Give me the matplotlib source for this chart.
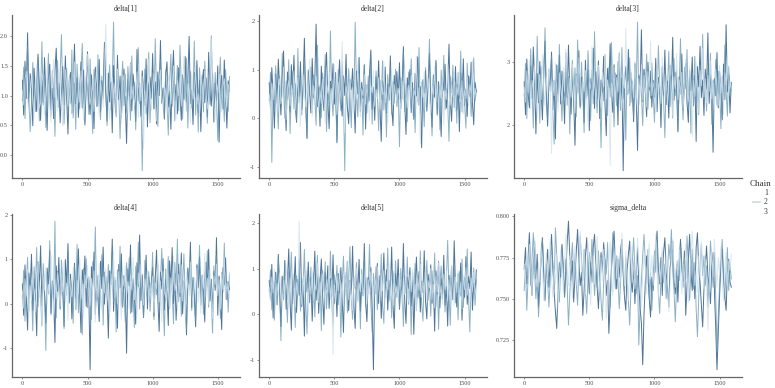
import numpy as np
import matplotlib
matplotlib.use("Agg")
import matplotlib.pyplot as plt
from matplotlib.lines import Line2D

# trace values: every 10th draw, 3 chains per parameter
delta1_c1 = [1.08, 0.84, 1.27, 1.41, 0.93, 0.71, 1.15, 1.33, 0.98, 0.62, 1.19, 1.52, 1.06, 0.79, 0.88, 1.36, 1.24, 0.67, 1.02, 1.47,
             1.13, 0.86, 0.55, 1.29, 1.61, 0.97, 1.10, 0.74, 1.38, 1.21, 0.91, 0.48, 1.05, 1.44, 1.17, 0.82, 1.31, 0.95, 0.69, 1.25,
             1.57, 1.03, 0.77, 1.18, 0.89, 1.42, 1.09, 0.58, 0.94, 1.34, 1.70, 1.12, 0.85, 1.00, 1.26, 0.73, 1.16, 1.49, 0.92, 0.65,
             1.22, 1.07, 0.81, 1.39, 2.21, 1.14, 0.90, 0.60, 1.04, 1.30, 0.96, 1.20, 0.76, 1.45, 1.11, 0.87, 0.52, 1.23, 1.35, 0.99,
             1.06, 0.70, 1.28, 1.54, 0.94, 1.15, 0.83, 1.01, 1.40, 0.63, 1.19, 0.91, 1.32, 0.10, 1.08, 0.80, 1.24, 1.62, 0.97, 0.75,
             1.13, 1.37, 0.88, 0.57, 1.02, 1.27, 1.43, 0.95, 0.78, 1.17, 1.05, 0.68, 1.34, 1.21, 0.86, 1.10, 1.50, 0.92, 0.61, 1.25,
             1.00, 1.31, 0.82, 1.15, 1.66, 0.99, 0.73, 1.20, 1.08, 0.54, 1.38, 0.94, 1.12, 1.46, 0.85, 1.03, 0.66, 1.29, 1.18, 0.89,
             1.41, 1.07, 0.77, 0.96, 1.33, 1.95, 1.11, 0.84, 0.59, 1.22, 1.04, 1.36, 0.90, 0.72, 1.16, 1.28, 0.98, 0.81, 1.19, 1.09]
delta1_c2 = [0.92, 1.48, 0.61, 1.27, 1.83, 1.05, 0.39, 0.88, 1.56, 1.19, 0.73, 1.37, 1.64, 0.57, 1.02, 1.91, 0.84, 1.29, 0.46, 1.13,
             1.71, 0.95, 0.66, 1.42, 1.08, 0.31, 1.24, 1.59, 0.80, 1.35, 2.03, 0.99, 0.52, 1.17, 1.46, 0.70, 1.28, 0.87, 1.77, 0.62,
             1.21, 0.43, 1.53, 1.06, 0.78, 1.39, 1.88, 0.90, 0.55, 1.31, 1.12, 0.68, 1.62, 0.97, 0.36, 1.44, 1.25, 0.81, 1.69, 1.01,
             0.59, 1.33, 0.94, 1.79, 1.16, 0.49, 1.07, 1.52, 0.75, 1.26, 2.24, 0.87, 0.64, 1.40, 1.03, 0.27, 1.18, 1.58, 0.83, 1.36,
             0.71, 1.49, 1.10, 0.58, 1.67, 0.93, 1.22, 0.42, 1.34, 1.81, 0.86, 1.04, -0.27, 0.98, 1.45, 0.69, 1.28, 1.73, 0.54, 1.15,
             1.38, 0.77, 1.96, 1.02, 0.48, 1.26, 1.60, 0.89, 1.11, 0.63, 1.43, 0.96, 0.33, 1.20, 1.70, 0.82, 1.32, 0.57, 1.08, 1.51,
             0.74, 1.85, 1.14, 0.60, 1.29, 0.91, 1.63, 0.45, 1.19, 1.41, 0.79, 1.05, 1.92, 0.67, 1.24, 0.38, 1.47, 0.99, 1.35, 0.72,
             1.58, 1.09, 0.53, 1.30, 0.85, 2.01, 1.17, 0.66, 1.39, 0.94, 0.24, 1.27, 1.65, 0.80, 1.13, 0.56, 1.44, 1.00, 0.73, 1.32]
delta1_c3 = [1.26, 0.67, 1.58, 0.95, 2.06, 0.80, 1.37, 1.11, 0.49, 1.46, 0.98, 0.73, 1.70, 1.18, 0.58, 1.32, 0.88, 1.64, 1.02, 0.41,
             1.29, 1.53, 0.76, 1.12, 0.61, 1.41, 1.80, 0.92, 1.21, 0.54, 1.03, 1.49, 0.84, 1.67, 0.97, 0.35, 1.24, 1.39, 0.70, 1.15,
             1.87, 0.86, 1.30, 0.63, 1.08, 1.57, 0.79, 1.43, 0.50, 1.19, 1.74, 0.94, 0.68, 1.35, 1.01, 0.44, 1.48, 1.16, 0.82, 1.61,
             0.72, 1.25, 0.96, 1.90, 1.06, 0.57, 1.38, 0.89, 1.22, 0.37, 1.51, 1.04, 0.77, 1.68, 0.93, 1.33, 0.62, 1.14, 1.45, 0.85,
             0.19, 1.27, 0.99, 1.55, 0.74, 1.36, 1.09, 0.56, 1.78, 0.90, 1.20, 0.65, 1.42, 1.05, 0.83, 1.62, 0.47, 1.17, 1.31, 0.95,
             1.71, 0.78, 1.23, 0.52, 1.40, 1.00, 1.93, 0.87, 1.13, 0.60, 1.34, 1.57, 0.81, 1.07, 0.43, 1.28, 1.76, 0.91, 1.19, 0.69,
             1.47, 1.02, 0.58, 1.35, 0.94, 1.66, 0.75, 1.23, 2.00, 0.86, 1.10, 0.51, 1.39, 0.97, 1.59, 0.71, 1.26, 0.39, 1.16, 1.44,
             0.88, 1.30, 0.64, 1.73, 1.06, 0.82, 1.37, 0.55, 1.21, 0.92, 1.50, 0.21, 1.12, 1.34, 0.77, 1.60, 0.98, 0.45, 1.25, 1.08]

delta2_c1 = [0.49, 0.21, 0.72, 0.38, 0.93, 0.55, 0.12, 0.64, 0.81, 0.30, 0.47, 1.05, 0.41, -0.02, 0.59, 0.77, 0.26, 0.68, 0.44, 0.97,
             0.17, 0.53, 0.84, 0.33, -0.16, 0.62, 0.89, 0.46, 0.23, 0.74, 0.36, 1.21, 0.50, 0.05, 0.67, 0.40, 0.86, 0.48, 0.14, 0.57,
             0.31, 0.80, 0.43, -0.11, 0.71, 0.52, 0.95, 0.27, 0.61, 0.38, 1.10, 0.46, 0.08, 0.73, 0.34, 0.58, 1.57, 0.42, -0.29, 0.66,
             0.51, 0.19, 0.85, 0.45, 0.63, 0.16, 0.78, 0.39, 1.14, 0.55, 0.03, 0.60, 0.47, 0.90, 0.29, 0.70, 0.37, -0.04, 0.67, 0.53,
             0.99, 0.25, 0.59, 0.41, 0.83, 0.18, 0.71, 0.49, 1.17, 0.32, 0.57, -0.09, 0.65, 0.44, 0.92, 0.28, 0.69, 0.51, 0.36, 0.62,
             0.45, 0.13, 0.76, 0.35, 1.02, 0.54, 0.22, 0.68, 0.40, 0.88, 0.06, 0.58, 0.47, 1.28, 0.30, 0.63, -0.52, 0.73, 0.43, 0.96,
             0.24, 0.56, 0.82, 0.37, 0.11, 0.66, 0.49, 1.07, 0.34, 0.75, 0.20, 0.61, 0.42, 0.87, -0.13, 0.57, 0.39, 1.12, 0.50, 0.27,
             0.70, 0.44, 0.91, 0.15, 0.64, 0.48, 1.00, 0.33, 0.77, 0.09, 0.59, 0.40, 0.85, 0.26, 0.69, 0.52, 1.19, 0.37, 0.62, 0.46]
delta2_c2 = [0.36, 0.94, -0.90, 0.61, 0.15, 1.08, 0.44, -0.22, 0.86, 0.27, 1.34, 0.59, 0.00, 0.77, 0.39, 1.20, -0.31, 0.63, 0.97, 0.19,
             0.71, -0.04, 1.43, 0.32, 0.82, 0.07, 0.54, 1.25, 0.29, -0.40, 0.75, 0.46, 1.05, 0.12, 0.89, 0.41, -0.14, 1.50, 0.23, 0.68,
             0.01, 0.93, 0.48, 1.31, -0.27, 0.56, 0.30, 1.79, 0.43, 0.05, 0.84, 0.34, -0.45, 1.00, 0.51, 0.16, 1.16, 0.39, -1.07, 0.73,
             0.25, 1.02, 0.48, -0.19, 0.80, 0.33, 1.97, 0.55, 0.03, 0.91, 0.20, 0.66, -0.34, 1.11, 0.42, 0.11, 0.87, 0.36, 1.27, -0.12,
             0.64, 0.27, 0.97, 0.50, -0.25, 0.79, 0.38, 1.18, 0.17, 0.65, -0.38, 0.90, 0.45, 1.07, 0.08, 0.76, 0.31, 1.01, 0.24, 0.57,
             -0.58, 0.83, 0.40, 1.36, 0.14, 0.70, -0.07, 0.95, 0.52, 1.22, 0.21, 0.60, -0.29, 0.88, 0.35, 1.45, 0.10, 0.74, 0.47, -0.17,
             1.04, 0.28, 0.67, 1.62, 0.37, -0.36, 0.81, 0.50, 1.14, 0.06, 0.72, -0.23, 0.99, 0.44, 1.29, 0.18, 0.62, 0.33, -0.47, 0.86,
             0.53, 1.09, 0.22, 0.69, -0.10, 0.94, 0.41, 1.38, 0.13, 0.78, 0.30, -0.20, 1.13, 0.49, 0.85, 0.04, 0.66, 1.24, 0.35, 0.58]
delta2_c3 = [0.73, 0.22, 1.04, 0.47, -0.20, 0.90, 0.31, 1.21, 0.58, 0.07, 0.81, 1.38, 0.42, -0.25, 0.95, 0.60, 0.13, 1.10, 0.49, 1.29,
             0.26, -0.08, 0.86, 0.45, 1.16, 0.18, 0.71, 1.64, 0.33, -0.41, 0.99, 0.56, 0.11, 1.23, 0.42, 0.78, 1.93, 0.24, 0.64, -0.16,
             1.07, 0.48, 0.16, 0.91, 1.35, 0.35, -0.21, 0.76, 0.53, 1.12, 0.29, 0.94, -0.50, 0.61, 1.20, 0.40, 0.05, 0.87, 0.47, 1.31,
             0.23, -0.11, 0.80, 0.58, 1.02, 0.36, -0.30, 0.97, 0.50, 1.25, 0.14, 0.74, 0.41, 1.09, -0.22, 0.69, 0.32, 0.92, 1.40, 0.19,
             0.63, -0.04, 0.85, 0.44, 1.18, 0.28, -0.47, 0.77, 0.55, 1.05, 0.10, 0.70, 0.37, 1.28, 0.25, -0.15, 0.88, 0.51, 0.96, 0.39,
             1.14, 0.20, 0.66, 1.47, 0.34, -0.33, 0.83, 0.59, 1.00, 0.12, 0.73, -0.02, 0.92, 0.46, 1.26, 0.27, 0.65, -0.60, 0.79, 0.52,
             0.98, 0.15, 0.68, 1.33, 0.38, -0.18, 0.89, 0.43, 1.19, 0.09, 0.75, 0.30, -0.37, 0.84, 0.57, 1.11, 0.21, 0.62, 1.52, 0.35,
             -0.06, 0.82, 0.48, 1.06, 0.17, 0.70, -0.27, 0.93, 0.39, 1.22, 0.26, 0.60, 0.04, 0.87, 0.45, 1.15, 0.32, -0.13, 0.74, 0.54]

delta3_c1 = [2.59, 2.36, 2.85, 2.51, 3.02, 2.25, 2.70, 2.57, 2.93, 2.43, 2.15, 2.64, 2.80, 2.40, 3.11, 2.56, 2.30, 2.76, 2.48, 2.88,
             2.61, 1.55, 2.68, 2.46, 2.98, 2.55, 2.22, 2.82, 2.58, 2.38, 2.91, 2.52, 3.19, 2.63, 2.33, 2.74, 2.44, 2.96, 2.54, 2.19,
             2.79, 2.50, 3.06, 2.62, 2.31, 2.72, 2.53, 2.86, 2.42, 1.98, 2.67, 2.57, 3.24, 2.47, 2.77, 2.35, 2.65, 2.94, 2.49, 2.27,
             2.83, 2.60, 3.09, 2.41, 2.71, 2.54, 1.36, 2.66, 2.45, 2.90, 2.37, 2.75, 2.52, 3.15, 2.44, 2.23, 2.81, 2.58, 3.52, 2.48,
             2.69, 2.32, 2.87, 2.63, 2.43, 3.00, 2.53, 2.21, 2.73, 2.47, 2.95, 2.39, 2.78, 2.56, 2.28, 2.84, 2.60, 3.32, 2.46, 2.67,
             2.55, 2.18, 2.89, 2.50, 2.74, 2.34, 3.07, 2.61, 2.42, 2.80, 2.29, 2.68, 2.97, 2.52, 2.14, 2.76, 2.57, 3.13, 2.40, 2.71,
             2.48, 2.83, 2.26, 2.64, 3.04, 2.51, 2.37, 2.92, 2.59, 1.82, 2.70, 2.45, 2.99, 2.55, 2.20, 2.86, 2.62, 3.21, 2.44, 2.73,
             2.35, 2.78, 2.53, 3.01, 2.41, 2.66, 2.24, 2.88, 2.57, 2.31, 2.94, 2.50, 2.75, 2.17, 2.82, 2.63, 3.10, 2.46, 2.69, 2.58]
delta3_c2 = [2.46, 2.97, 2.10, 2.79, 2.34, 3.20, 2.57, 1.95, 2.85, 2.39, 3.40, 2.62, 2.03, 2.92, 2.28, 2.70, 3.53, 2.43, 2.09, 2.88,
             2.53, 3.09, 2.21, 1.70, 2.67, 2.95, 2.37, 3.27, 2.58, 2.06, 2.83, 2.45, 3.14, 2.31, 2.76, 1.86, 2.64, 3.02, 2.40, 2.90,
             2.13, 3.34, 2.55, 2.26, 2.99, 2.49, 1.88, 2.81, 2.42, 3.17, 2.60, 2.07, 2.87, 2.33, 3.47, 2.54, 2.19, 2.94, 2.48, 1.64,
             2.78, 2.38, 3.11, 2.61, 2.15, 2.91, 2.44, 3.30, 2.52, 1.97, 2.82, 2.30, 3.00, 2.58, 2.23, 3.22, 2.41, 2.73, 1.76, 2.89,
             2.50, 3.06, 2.36, 2.69, 2.12, 2.96, 2.56, 3.62, 2.32, 2.80, 2.47, 1.99, 2.86, 2.59, 3.12, 2.25, 2.75, 2.42, 2.98, 2.51,
             2.04, 2.84, 2.35, 3.25, 2.63, 2.18, 2.93, 2.40, 1.80, 2.77, 2.55, 3.16, 2.29, 2.72, 2.11, 3.05, 2.46, 2.87, 1.92, 2.66,
             3.36, 2.44, 2.08, 2.91, 2.57, 3.19, 2.27, 2.74, 1.87, 2.83, 2.49, 3.08, 2.34, 2.69, 2.16, 2.95, 2.58, 3.43, 2.37, 2.79,
             2.22, 2.90, 2.52, 3.13, 2.01, 2.71, 2.45, 3.03, 2.31, 2.85, 2.60, 1.94, 2.76, 2.39, 3.26, 2.54, 2.14, 2.92, 2.47, 2.64]
delta3_c3 = [2.68, 2.16, 3.04, 2.50, 2.27, 2.93, 2.42, 3.23, 2.72, 1.86, 2.81, 2.35, 3.00, 2.54, 2.08, 2.86, 3.32, 2.45, 1.98, 2.77,
             2.62, 3.15, 2.24, 2.70, 1.78, 2.94, 2.48, 3.10, 2.33, 2.85, 2.64, 2.02, 2.98, 2.43, 3.26, 2.55, 2.17, 2.90, 2.38, 1.68,
             2.80, 2.51, 3.17, 2.29, 2.76, 2.67, 2.04, 3.02, 2.46, 2.87, 1.91, 2.73, 2.56, 3.21, 2.26, 2.84, 2.41, 3.01, 2.10, 2.71,
             2.52, 3.08, 2.34, 1.83, 2.89, 2.59, 3.28, 2.44, 2.20, 2.95, 2.53, 2.79, 2.00, 3.13, 2.40, 2.74, 1.28, 2.66, 2.92, 2.48,
             3.19, 2.31, 2.82, 2.57, 2.05, 2.97, 2.45, 1.60, 2.78, 2.61, 3.50, 2.37, 2.88, 2.50, 2.13, 2.99, 2.55, 2.85, 2.28, 2.70,
             2.44, 3.05, 2.21, 2.75, 2.60, 1.96, 2.91, 2.47, 3.18, 2.32, 2.69, 2.11, 2.94, 2.53, 3.38, 2.39, 2.83, 2.58, 1.89, 2.76,
             2.49, 3.12, 2.25, 2.65, 2.97, 2.36, 2.04, 2.86, 2.54, 3.07, 2.30, 2.78, 1.74, 2.92, 2.60, 3.24, 2.43, 2.71, 2.15, 2.88,
             2.57, 3.45, 2.34, 2.80, 2.51, 1.57, 2.73, 2.46, 3.14, 2.27, 2.84, 2.62, 2.08, 2.96, 2.40, 3.58, 2.52, 2.79, 2.19, 2.67]

delta4_c1 = [0.29, -0.10, 0.56, 0.17, 0.77, -0.32, 0.40, 0.08, 0.65, 0.25, -0.19, 0.49, 0.92, 0.14, 0.35, -0.46, 0.61, 0.30, 0.83, -0.02,
             0.43, 0.21, 1.10, 0.36, -0.25, 0.54, 0.12, 0.70, 0.41, -0.07, 0.59, 0.27, 0.95, 0.05, 0.46, -0.37, 0.68, 0.32, 0.16, 0.81,
             0.38, -0.14, 0.52, 0.23, 1.01, 0.10, 0.44, -0.29, 0.64, 0.35, 0.86, 0.19, -0.05, 0.57, 0.29, 0.74, -0.42, 0.48, 0.15, 0.90,
             0.34, -0.16, 0.60, 0.24, 0.78, 0.07, 0.45, -0.23, 0.67, 0.34, 1.18, 0.13, 0.53, 0.00, 0.72, 0.28, -0.35, 0.58, 0.39, 0.85,
             0.18, 0.50, -0.11, 0.63, 0.31, 1.04, 0.09, 0.41, -0.27, 0.69, 0.37, 0.88, 0.22, -0.03, 0.55, 0.26, 0.76, 0.11, 0.42, 0.20,
             0.62, -0.20, 0.47, 0.33, 0.97, 0.04, 0.51, -0.40, 0.73, 0.27, 0.14, 0.80, 0.36, -0.08, 0.58, 0.21, 1.07, 0.30, 0.45, -0.15,
             0.66, 0.24, 0.87, 0.06, 0.52, -0.30, 0.71, 0.39, 0.17, 0.93, 0.32, -0.06, 0.60, 0.26, 0.79, 0.02, 0.48, -0.22, 0.64, 0.35,
             1.13, 0.15, 0.57, -0.01, 0.75, 0.28, -0.33, 0.62, 0.43, 0.89, 0.18, 0.54, -0.12, 0.67, 0.31, 1.02, 0.10, 0.46, 0.23, 0.70]
delta4_c2 = [0.14, 0.75, -0.39, 0.40, 1.04, -0.16, 0.57, 0.26, -0.61, 0.83, 0.33, 1.26, -0.07, 0.49, 0.17, -0.50, 0.90, 0.38, -1.05, 0.66,
             0.22, 1.41, -0.25, 0.52, 0.09, 1.85, -0.32, 0.73, 0.30, -0.13, 0.98, 0.43, -0.56, 0.62, 0.19, 1.17, 0.01, 0.55, 0.35, -0.44,
             0.86, 0.28, 1.33, -0.20, 0.47, 0.12, -0.69, 0.79, 0.41, 1.01, -0.09, 0.60, 0.24, -0.35, 0.94, 0.46, 1.72, 0.06, 0.64, -0.27,
             0.37, 1.10, -0.48, 0.71, 0.29, 0.16, 0.88, -0.18, 0.51, 1.21, 0.04, 0.59, -0.63, 0.76, 0.34, 1.29, -0.05, 0.42, 0.21, -0.41,
             0.92, 0.39, 1.03, -0.22, 0.54, 0.13, -0.53, 0.84, 0.32, 1.38, -0.12, 0.65, 0.25, -0.30, 0.97, 0.48, 0.10, 0.72, -0.17, 0.36,
             1.15, -0.36, 0.63, 0.20, 0.87, -0.02, 0.50, 1.24, 0.11, -0.72, 0.78, 0.35, 1.06, -0.10, 0.57, 0.27, -0.45, 0.93, 0.40, 1.45,
             0.05, 0.68, -0.28, 0.44, 1.12, 0.18, -0.58, 0.81, 0.31, 0.99, -0.15, 0.53, 0.23, -0.38, 0.89, 0.45, 1.31, 0.02, 0.61, -0.24,
             0.74, 0.30, 1.19, -0.08, 0.56, 0.15, -0.66, 0.85, 0.38, 1.08, 0.07, 0.60, -0.33, 0.70, 0.26, 1.36, 0.12, 0.49, -0.19, 0.67]
delta4_c3 = [0.44, -0.26, 0.87, 0.11, -0.59, 0.69, 0.32, 1.11, -0.15, 0.55, 0.20, -0.72, 0.94, 0.37, 1.30, -0.04, 0.62, 0.23, -0.43, 0.80,
             0.42, 1.19, -0.21, 0.50, 0.15, -0.87, 0.85, 0.28, 1.04, -0.10, 0.59, 0.35, -0.51, 0.99, 0.40, 1.35, 0.03, 0.66, -0.34, 0.31,
             0.91, -0.13, 0.53, 1.23, 0.18, -0.65, 0.76, 0.45, 1.07, -0.06, 0.57, 0.22, -1.48, 0.83, 0.39, 1.16, -0.24, 0.48, 0.12, -0.40,
             0.95, 0.34, 1.27, -0.01, 0.61, 0.26, -0.77, 0.74, 0.43, 1.45, -0.17, 0.52, 0.17, -0.55, 0.88, 0.36, 1.12, -0.08, 0.63, 0.29,
             -1.11, 0.78, 0.41, 1.32, -0.19, 0.56, 0.14, -0.46, 0.92, 0.38, 1.54, 0.07, 0.65, -0.31, 0.46, 1.09, -0.12, 0.60, 0.24, 0.49,
             0.82, -0.28, 0.58, 1.20, 0.10, -0.62, 0.71, 0.33, 1.01, -0.14, 0.54, 0.27, -0.49, 0.96, 0.40, 1.26, 0.00, 0.67, -0.37, 0.30,
             0.89, 0.16, 1.14, -0.23, 0.51, 0.21, -0.70, 0.79, 0.44, 1.38, -0.09, 0.59, 0.13, -0.52, 0.86, 0.35, 1.05, -0.03, 0.64, 0.25,
             -0.41, 0.93, 0.38, 1.22, 0.06, 0.55, -0.18, 0.73, 0.30, 1.48, -0.26, 0.62, 0.19, -0.58, 0.81, 0.42, 1.03, 0.09, 0.50, 0.32]

delta5_c1 = [0.59, 0.29, 0.82, 0.47, 1.00, 0.20, 0.68, 0.40, 0.91, 0.54, 0.11, 0.75, 0.35, 1.09, 0.60, 0.24, 0.79, 0.49, 0.97, 0.66,
             0.16, 0.70, 0.43, 2.05, 0.57, 0.22, 0.86, 0.38, 1.04, 0.62, -0.03, 0.73, 0.45, 0.97, 0.31, 0.64, 0.53, 1.13, 0.26, 0.71,
             0.42, 0.89, 0.59, 0.14, 0.77, 0.48, 1.06, 0.33, 0.75, -0.89, 0.65, 0.28, 0.84, 0.52, 0.98, 0.37, 0.70, 0.19, 0.92, 0.56,
             1.18, 0.32, 0.74, 0.46, 0.09, 0.81, 0.61, 1.02, 0.27, 0.69, 0.50, 0.88, 0.39, 0.63, 1.11, 0.23, 0.76, 0.44, 0.94, 0.58,
             0.13, 0.78, 0.36, 1.05, 0.64, 0.30, 0.85, 0.51, 0.96, 0.25, 0.72, 0.55, 1.15, 0.41, 0.69, 0.18, 0.83, 0.47, 0.62, 0.34,
             0.90, 0.57, 0.21, 0.80, 0.44, 1.07, 0.60, 0.27, 0.87, 0.50, 0.99, 0.35, 0.66, 0.08, 0.79, 0.53, 1.10, 0.38, 0.71, 0.46,
             0.93, 0.26, 0.74, 0.58, 1.01, 0.32, 0.67, 0.15, 0.84, 0.49, 1.14, 0.40, 0.63, 0.22, 0.88, 0.55, 0.95, 0.30, 0.76, 0.43,
             1.08, 0.61, 0.19, 0.82, 0.48, 0.97, 0.36, 0.70, 0.12, 0.86, 0.54, 1.03, 0.42, 0.68, 0.25, 0.80, 0.51, 0.92, 0.39, 0.64]
delta5_c2 = [0.50, 0.98, 0.10, 0.73, -0.13, 0.88, 0.41, 1.25, 0.57, -0.58, 0.82, 0.32, 1.11, 0.48, -0.18, 0.94, 0.65, 1.37, 0.23, 0.70,
             -0.29, 0.85, 0.44, 1.20, 0.07, 0.79, 0.60, 1.43, 0.28, -0.43, 0.76, 0.53, 1.04, 0.18, 0.91, -0.06, 0.67, 1.30, 0.36, 0.81,
             -0.36, 0.97, 0.51, 1.16, 0.12, 0.72, 0.45, 1.39, 0.26, -0.23, 0.87, 0.59, 1.08, 0.21, 0.78, -0.50, 0.64, 1.28, 0.39, 0.92,
             0.04, 0.75, 1.49, 0.34, -0.11, 0.83, 0.55, 1.14, 0.30, 0.69, -0.32, 0.99, 0.47, 1.23, 0.16, 0.80, 0.62, 1.54, 0.24, -0.38,
             0.90, 0.52, 1.05, 0.10, 0.74, 0.42, 1.33, 0.20, -0.20, 0.86, 0.58, 1.46, 0.29, 0.71, -0.08, 0.95, 0.49, 1.18, 0.37, 0.77,
             0.13, 1.01, 0.56, -0.27, 0.84, 0.46, 1.26, 0.22, 0.68, -0.45, 0.93, 0.52, 1.12, 0.08, 0.79, 0.35, 1.40, 0.27, -0.15, 0.89,
             0.60, 1.19, 0.31, 0.73, -0.04, 0.96, 0.43, 1.35, 0.17, 0.82, -0.33, 0.66, 1.07, 0.38, 0.91, 0.05, 0.75, 1.63, 0.48, -0.24,
             0.87, 0.54, 1.10, 0.25, 0.70, -0.12, 0.94, 0.40, 1.22, 0.15, 0.80, 0.57, 1.44, 0.33, -0.39, 0.85, 0.50, 1.02, 0.20, 0.76]
delta5_c3 = [0.74, 0.33, 1.10, -0.08, 0.66, 0.93, 0.21, 1.32, 0.52, -0.27, 0.84, 0.46, 1.19, 0.11, 0.71, 1.44, 0.29, -0.35, 0.89, 0.58,
             1.27, 0.04, 0.77, 0.42, 1.58, 0.17, 0.65, -0.48, 0.96, 0.49, 1.15, 0.26, 0.81, -0.15, 0.62, 1.39, 0.31, 0.87, 0.02, 0.72,
             1.22, 0.44, -0.22, 0.92, 0.55, 1.07, 0.13, 0.79, 0.39, 1.31, 0.23, 0.68, -0.05, 0.90, 0.47, 1.03, 0.36, -0.40, 0.85, 0.60,
             1.17, 0.08, 0.75, 0.43, 1.50, 0.18, -0.31, 0.88, 0.54, 1.21, 0.07, 0.70, 0.41, 1.56, 0.27, -0.16, 0.82, 0.57, 1.03, 0.15,
             -1.22, 0.67, 0.46, 1.12, 0.24, 0.85, -0.09, 0.60, 1.35, 0.37, 0.98, 0.09, 0.75, 0.50, 1.48, 0.22, -0.31, 0.90, 0.54, 1.21,
             0.11, 0.70, 0.39, 1.56, 0.31, -0.20, 0.82, 0.57, 1.03, 0.19, 0.76, -0.44, 0.63, 1.26, 0.38, 0.94, 0.05, 0.73, 0.48, 1.40,
             0.28, -0.10, 0.88, 0.53, 1.09, 0.24, 0.69, -0.37, 0.96, 0.45, 1.16, 0.14, 0.79, 0.34, 1.30, 0.20, 0.61, -0.26, 0.86, 0.51,
             1.06, 0.32, 1.62, 0.59, 0.16, 0.90, 0.43, 1.13, -0.13, 0.74, 0.37, 1.27, 0.22, 0.83, 0.56, 1.37, 0.09, 0.68, 0.40, 0.98]

sigma_c1 = [0.771, 0.758, 0.779, 0.764, 0.783, 0.769, 0.752, 0.775, 0.787, 0.766, 0.757, 0.772, 0.760, 0.781, 0.770, 0.749, 0.765, 0.778, 0.761, 0.774,
            0.786, 0.763, 0.751, 0.768, 0.759, 0.777, 0.744, 0.762, 0.780, 0.767, 0.755, 0.773, 0.789, 0.768, 0.758, 0.776, 0.764, 0.750, 0.771, 0.782,
            0.765, 0.756, 0.774, 0.791, 0.769, 0.760, 0.779, 0.753, 0.767, 0.784, 0.772, 0.746, 0.763, 0.776, 0.759, 0.770, 0.788, 0.766, 0.754, 0.775,
            0.761, 0.780, 0.768, 0.738, 0.757, 0.773, 0.785, 0.764, 0.752, 0.770, 0.781, 0.762, 0.776, 0.755, 0.767, 0.790, 0.771, 0.758, 0.779, 0.765,
            0.749, 0.768, 0.782, 0.760, 0.774, 0.756, 0.766, 0.787, 0.772, 0.761, 0.745, 0.764, 0.778, 0.769, 0.753, 0.773, 0.784, 0.762, 0.776, 0.758,
            0.770, 0.789, 0.765, 0.751, 0.772, 0.760, 0.781, 0.767, 0.755, 0.777, 0.763, 0.742, 0.759, 0.775, 0.786, 0.768, 0.757, 0.773, 0.764, 0.780,
            0.766, 0.753, 0.771, 0.759, 0.783, 0.769, 0.748, 0.762, 0.777, 0.791, 0.772, 0.758, 0.767, 0.754, 0.776, 0.763, 0.785, 0.770, 0.756, 0.774,
            0.760, 0.731, 0.752, 0.768, 0.779, 0.763, 0.786, 0.771, 0.757, 0.775, 0.765, 0.782, 0.761, 0.749, 0.769, 0.778, 0.758, 0.773, 0.767, 0.777]
sigma_c2 = [0.755, 0.770, 0.743, 0.763, 0.781, 0.758, 0.774, 0.790, 0.767, 0.750, 0.764, 0.739, 0.757, 0.779, 0.786, 0.768, 0.753, 0.772, 0.760, 0.745,
            0.762, 0.783, 0.771, 0.756, 0.793, 0.776, 0.760, 0.748, 0.769, 0.782, 0.765, 0.751, 0.774, 0.758, 0.734, 0.752, 0.771, 0.784, 0.763, 0.777,
            0.759, 0.746, 0.768, 0.788, 0.775, 0.761, 0.780, 0.755, 0.741, 0.763, 0.778, 0.766, 0.786, 0.770, 0.752, 0.767, 0.757, 0.779, 0.764, 0.749,
            0.737, 0.760, 0.774, 0.765, 0.784, 0.758, 0.745, 0.769, 0.790, 0.773, 0.756, 0.776, 0.762, 0.744, 0.760, 0.781, 0.767, 0.754, 0.775, 0.763,
            0.748, 0.734, 0.757, 0.772, 0.787, 0.768, 0.753, 0.764, 0.722, 0.746, 0.761, 0.777, 0.789, 0.771, 0.759, 0.780, 0.750, 0.766, 0.743, 0.762,
            0.779, 0.766, 0.786, 0.754, 0.741, 0.763, 0.778, 0.760, 0.771, 0.750, 0.765, 0.783, 0.774, 0.792, 0.767, 0.755, 0.736, 0.758, 0.773, 0.761,
            0.782, 0.768, 0.757, 0.775, 0.762, 0.788, 0.770, 0.749, 0.766, 0.780, 0.756, 0.772, 0.744, 0.727, 0.751, 0.769, 0.783, 0.764, 0.776, 0.758,
            0.770, 0.745, 0.762, 0.785, 0.773, 0.757, 0.778, 0.752, 0.718, 0.740, 0.759, 0.774, 0.786, 0.765, 0.750, 0.768, 0.781, 0.755, 0.771, 0.762]
sigma_c3 = [0.768, 0.781, 0.759, 0.774, 0.790, 0.766, 0.752, 0.771, 0.785, 0.762, 0.777, 0.745, 0.760, 0.773, 0.787, 0.764, 0.749, 0.770, 0.780, 0.757,
            0.775, 0.789, 0.769, 0.754, 0.742, 0.732, 0.756, 0.772, 0.763, 0.783, 0.770, 0.751, 0.767, 0.784, 0.797, 0.776, 0.761, 0.773, 0.748, 0.764,
            0.779, 0.792, 0.771, 0.758, 0.766, 0.740, 0.755, 0.776, 0.787, 0.768, 0.753, 0.772, 0.760, 0.781, 0.789, 0.770, 0.757, 0.744, 0.763, 0.778,
            0.766, 0.784, 0.773, 0.752, 0.761, 0.729, 0.749, 0.768, 0.782, 0.791, 0.770, 0.756, 0.774, 0.763, 0.780, 0.786, 0.765, 0.751, 0.743, 0.767,
            0.777, 0.785, 0.761, 0.754, 0.772, 0.747, 0.765, 0.781, 0.758, 0.744, 0.735, 0.710, 0.741, 0.760, 0.776, 0.764, 0.750, 0.739, 0.763, 0.755,
            0.771, 0.782, 0.791, 0.768, 0.759, 0.775, 0.752, 0.778, 0.787, 0.766, 0.757, 0.745, 0.769, 0.776, 0.785, 0.762, 0.753, 0.771, 0.748, 0.773,
            0.786, 0.770, 0.761, 0.779, 0.740, 0.758, 0.774, 0.789, 0.767, 0.755, 0.772, 0.750, 0.781, 0.790, 0.768, 0.760, 0.746, 0.733, 0.756, 0.769,
            0.782, 0.764, 0.758, 0.747, 0.770, 0.778, 0.755, 0.733, 0.707, 0.729, 0.752, 0.771, 0.780, 0.762, 0.751, 0.743, 0.766, 0.774, 0.760, 0.757]

params = ["delta[1]", "delta[2]", "delta[3]", "delta[4]", "delta[5]", "sigma_delta"]
chains = [
    [delta1_c1, delta1_c2, delta1_c3],
    [delta2_c1, delta2_c2, delta2_c3],
    [delta3_c1, delta3_c2, delta3_c3],
    [delta4_c1, delta4_c2, delta4_c3],
    [delta5_c1, delta5_c2, delta5_c3],
    [sigma_c1, sigma_c2, sigma_c3],
]
yticks = [
    [0.0, 0.5, 1.0, 1.5, 2.0],
    [-1, 0, 1, 2],
    [2, 3],
    [-1, 0, 1, 2],
    [-1, 0, 1, 2],
    [0.725, 0.750, 0.775, 0.800],
]
yfmt = ["{:.1f}", "{:.0f}", "{:.0f}", "{:.0f}", "{:.0f}", "{:.3f}"]
xticks = [0, 500, 1000, 1500]
thin = 10  # iteration step between the values above

chain_colors = ["#d1e1ec", "#6497b1", "#03396c"]
chain_alpha = [0.8, 0.75, 0.7]
draw_order = [2, 1, 0]  # dark underneath, light band on top
axis_col = "#666666"
text_col = "#4d4d4d"

plt.rcParams["font.family"] = ["Liberation Serif", "DejaVu Serif"]
plt.rcParams["axes.unicode_minus"] = False

fig = plt.figure(figsize=(7.75, 3.88), dpi=100)

lefts = [0.0155, 0.334, 0.663]
bottoms = [0.541, 0.028]
w, h = 0.294, 0.421

for i, name in enumerate(params):
    r, c = divmod(i, 3)
    ax = fig.add_axes([lefts[c], bottoms[r], w, h])
    for k in draw_order:
        vals = chains[i][k]
        it = np.arange(len(vals)) * thin
        ax.plot(it, vals, color=chain_colors[k], lw=0.7, alpha=chain_alpha[k])
    ax.margins(x=0.05, y=0.05)
    ax.set_xticks(xticks)
    ax.set_xticklabels([str(t) for t in xticks])
    ax.set_yticks(yticks[i])
    ax.set_yticklabels([yfmt[i].format(t) for t in yticks[i]])
    ax.set_title(name, fontsize=5.5, color="#333333", pad=3)
    for s in ["top", "right"]:
        ax.spines[s].set_visible(False)
    for s in ["left", "bottom"]:
        ax.spines[s].set_color(axis_col)
        ax.spines[s].set_linewidth(0.9)
    ax.tick_params(labelsize=4.5, colors=axis_col, labelcolor=text_col,
                   length=1.5, width=0.5, pad=1.5)

# legend: only the key for chain 2 shows in the reference
handles = [Line2D([], [], color="none", lw=1),
           Line2D([], [], color="#c8dae7", lw=1.2),
           Line2D([], [], color="none", lw=1)]
leg = fig.legend(handles, ["1", "2", "3"], title="Chain", loc="center left",
                 bbox_to_anchor=(0.962, 0.49), frameon=False, fontsize=5.5,
                 title_fontsize=6.5, handlelength=1.0, handletextpad=0.5,
                 labelspacing=0.15, borderpad=0)
leg.get_title().set_color("#333333")
for t in leg.get_texts():
    t.set_color("#333333")

fig.savefig("out.png", dpi=100)
